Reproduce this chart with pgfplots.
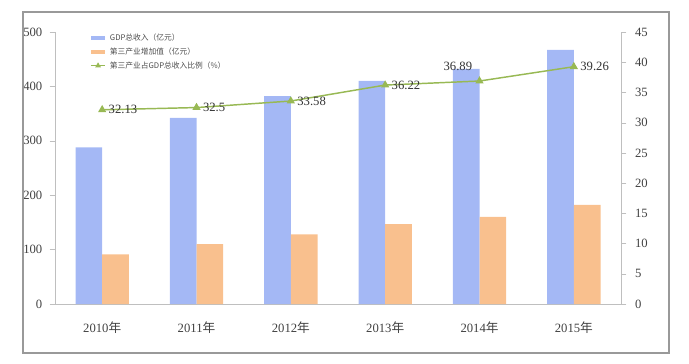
\documentclass[border=0pt]{standalone}
\usepackage{pgfplots}
\pgfplotsset{compat=1.18}
\usepackage{fontspec}
\setmainfont{Liberation Serif}
\newfontfamily\cjk{Noto Sans CJK SC}
\definecolor{barblue}{HTML}{A4B8F5}
\definecolor{barorange}{HTML}{F9C08E}
\definecolor{linegreen}{HTML}{98B954}
\definecolor{axgray}{HTML}{BFBFBF}
\begin{document}
\begin{tikzpicture}[x=0.75pt,y=0.75pt]
\begin{axis}[
  name=main,
  scale only axis,
  width=424.5pt, height=204pt,
  xmin=-0.5, xmax=5.5,
  ymin=0, ymax=500,
  ytick={0,100,...,500},
  xtick={0,...,5},
  xticklabels={2010{\cjk 年},2011{\cjk 年},2012{\cjk 年},2013{\cjk 年},2014{\cjk 年},2015{\cjk 年}},
  extra x ticks={0.5,1.5,2.5,3.5,4.5},
  extra x tick labels={},
  extra x tick style={major tick length=3pt, tick style={axgray}},
  major x tick style={draw=none},
  axis x line*=bottom,
  axis y line*=left,
  axis line style={axgray},
  ytick style={axgray},
  tick align=outside,
  major tick length=4pt,
  ticklabel style={font=\fontsize{9.5}{11}\selectfont, text=black!75},
  xticklabel style={yshift=-6pt},
  yticklabel style={xshift=-2pt},
  /pgf/number format/assume math mode=true,
  ybar, bar width=20pt,
  legend style={at={(0.057,1.01)}, anchor=north west, draw=none, fill=none,
    font=\cjk\fontsize{5.8}{6.5}\selectfont, text=black!70, row sep=0pt, inner sep=1pt,
    cells={anchor=west}},
  legend cell align=left,
]
\addplot[fill=barblue, draw=none, bar shift=-10pt,
  legend image code/.code={\draw[barblue, line width=3pt] (0cm,0cm) -- (0.38cm,0cm);}]
  coordinates {(0,288) (1,342) (2,382) (3,410) (4,432) (5,467)};
\addlegendentry{GDP总收入（亿元）}
\addplot[fill=barorange, draw=none, bar shift=10pt,
  legend image code/.code={\draw[barorange, line width=3pt] (0cm,0cm) -- (0.38cm,0cm);}]
  coordinates {(0,91) (1,110) (2,128) (3,147) (4,160) (5,182)};
\addlegendentry{第三产业增加值（亿元）}
\addlegendimage{linegreen, line width=1pt, mark=triangle*, mark size=1.5pt,
  legend image code/.code={\draw[linegreen, line width=1pt] (0cm,0cm) -- (0.38cm,0cm); \fill[linegreen] (0.19cm,0cm) +(90:1.6pt) -- +(210:1.6pt) -- +(330:1.6pt) -- cycle;}}
\addlegendentry{第三产业占GDP总收入比例（\%）}
\end{axis}
\begin{axis}[
  scale only axis,
  width=424.5pt, height=204pt,
  xmin=-0.5, xmax=5.5,
  ymin=0, ymax=45,
  ytick={0,5,...,45},
  axis y line*=right,
  axis x line=none,
  axis line style={axgray},
  ytick style={axgray},
  tick align=outside,
  major tick length=4pt,
  ticklabel style={font=\fontsize{9.5}{11}\selectfont, text=black!75},
  yticklabel style={xshift=3pt},
  /pgf/number format/assume math mode=true,
  nodes near coords,
  every node near coord/.append style={font=\fontsize{9.5}{11}\selectfont, text=black!80, anchor=west, xshift=1pt},
  point meta=explicit symbolic,
]
\addplot[linegreen, line width=1.1pt, mark=triangle*, mark size=2.5pt,
  mark options={fill=linegreen, draw=linegreen}]
  coordinates {(0,32.13)[32.13] (1,32.5)[32.5] (2,33.58)[33.58] (3,36.22)[36.22] (4,36.89)[] (5,39.26)[39.26]};
\addplot[draw=none, mark=none, nodes near coords,
  every node near coord/.append style={anchor=south east, xshift=-3pt, yshift=4pt}]
  coordinates {(4,36.89)[36.89]};
\end{axis}
\draw[gray!80, line width=0.8pt] ([xshift=-24pt,yshift=-36.75pt]main.south west) rectangle ([xshift=36pt,yshift=15pt]main.north east);
\path ([xshift=-41.25pt,yshift=-44.25pt]main.south west) rectangle ([xshift=51pt,yshift=24pt]main.north east);
\end{tikzpicture}
\end{document}
